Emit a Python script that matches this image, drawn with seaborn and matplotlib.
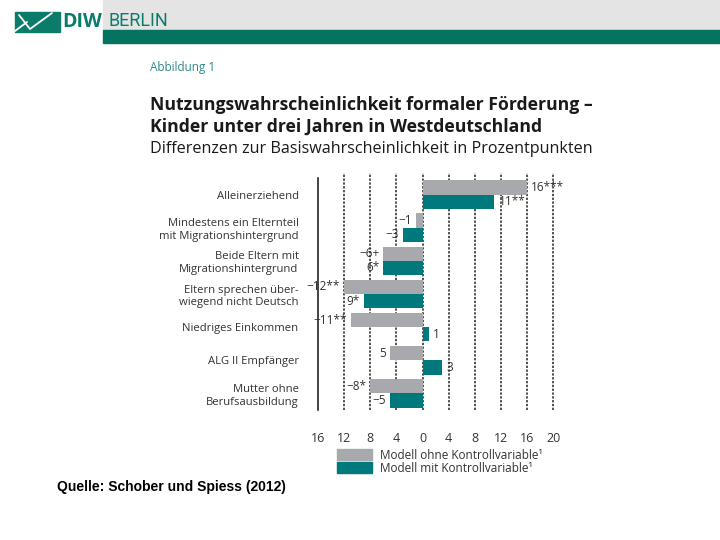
import pandas as pd
import matplotlib.pyplot as plt
import matplotlib.patches as mpatches
import matplotlib.lines as mlines
import seaborn as sns

# -----------------------------
# Data
# -----------------------------
categories = [
    "Alleinerziehend",
    "Mindestens ein Elternteil\nmit Migrationshintergrund",
    "Beide Eltern mit\nMigrationshintergrund",
    "Eltern sprechen über-\nwiegend nicht Deutsch",
    "Niedriges Einkommen",
    "ALG II Empfänger",
    "Mutter ohne\nBerufsausbildung",
]
models = ["Modell ohne Kontrollvariable¹", "Modell mit Kontrollvariable¹"]
ohne_values = [16, -1, -6, -12, -11, -5, -8]
mit_values = [11, -3, -6, -9, 1, 3, -5]
ohne_labels = ["16***", "−1", "−6+", "−12**", "−11**", "5", "−8*"]
mit_labels = ["11**", "−3", "6*", "9*", "1", "3", "−5"]
x_ticks = [-16, -12, -8, -4, 0, 4, 8, 12, 16, 20]

GRAY = "#a7a9ac"
TEAL = "#00797c"
TEXT = "#333333"

df = pd.DataFrame({
    "Merkmal": categories * 2,
    "Modell": [models[0]] * len(categories) + [models[1]] * len(categories),
    "Wert": ohne_values + mit_values,
})

# -----------------------------
# Figure
# -----------------------------
sns.set_style("white")
plt.rcParams["font.family"] = ["Open Sans", "DejaVu Sans"]

W, H = 720, 540
fig = plt.figure(figsize=(7.2, 5.4), dpi=100)


def fx(px):
    return px / W


def fy(py):
    return 1 - py / H


# header band
fig.patches.append(mpatches.Rectangle((fx(103), fy(30)), 1, 30 / H,
                                      transform=fig.transFigure, color="#e4e4e4", zorder=0))
fig.patches.append(mpatches.Rectangle((fx(103), fy(43)), 1, 13 / H,
                                      transform=fig.transFigure, color="#04735f", zorder=0))
# logo
fig.patches.append(mpatches.Polygon([(fx(15), fy(12)), (fx(60), fy(12)), (fx(60), fy(32)), (fx(15), fy(32))],
                                    closed=True, transform=fig.transFigure, color="#0b7c6a", zorder=1))
for xs, ys in [([19, 30, 52], [15, 29, 13]), ([15, 27], [31, 22])]:
    fig.lines.append(mlines.Line2D([fx(v) for v in xs], [fy(v) for v in ys],
                                   transform=fig.transFigure, color="white", lw=1.3, zorder=2))
fig.text(fx(62), fy(22), "DIW", color="#0b7c6a", fontsize=14, fontweight="bold",
         va="center", ha="left")
fig.text(fx(108), fy(21), "BERLIN", color="#0b7c6a", fontsize=13,
         va="center", ha="left", family=["Roboto", "DejaVu Sans"], fontstretch="condensed")

# titles
fig.text(fx(150), fy(68), "Abbildung 1", color="#2f8a8a", fontsize=8.5, va="center", ha="left")
fig.text(fx(150), fy(105), "Nutzungswahrscheinlichkeit formaler Förderung –",
         color="#1a1a1a", fontsize=12.7, fontweight="bold", va="center", ha="left")
fig.text(fx(150), fy(127), "Kinder unter drei Jahren in Westdeutschland",
         color="#1a1a1a", fontsize=12.7, fontweight="bold", va="center", ha="left")
fig.text(fx(150), fy(149), "Differenzen zur Basiswahrscheinlichkeit in Prozentpunkten",
         color="#1a1a1a", fontsize=11.6, va="center", ha="left")

# -----------------------------
# Bars
# -----------------------------
ax = fig.add_axes([fx(318), fy(410), fx(563) - fx(318), (410 - 178) / H])

sns.barplot(
    data=df,
    y="Merkmal",
    x="Wert",
    hue="Modell",
    hue_order=models,
    palette=[GRAY, TEAL],
    orient="h",
    width=0.86,
    saturation=1,
    linewidth=0,
    legend=False,
    ax=ax,
    zorder=3,
)

ax.set_xlim(-16, 21.5)
ax.set_ylim(len(categories) - 0.5, -0.5)

for t in x_ticks[1:]:
    ax.axvline(t, color="#222222", lw=1.1, ls=(0, (1.5, 1)), zorder=1,
               ymin=0, ymax=1.02, clip_on=False)

for cont, labs in zip(ax.containers, [ohne_labels, mit_labels]):
    ax.bar_label(cont, labels=labs, padding=3, fontsize=8.5, color=TEXT)

# axes styling
for s in ["top", "right", "bottom"]:
    ax.spines[s].set_visible(False)
ax.spines["left"].set_color("#111111")
ax.spines["left"].set_linewidth(1.1)

ax.set_xticks(x_ticks)
ax.set_xticklabels([str(abs(t)) for t in x_ticks])
ax.tick_params(axis="x", length=0, pad=16, labelsize=9, labelcolor=TEXT)

ax.set_yticks(range(len(categories)))
ax.set_yticklabels(categories, linespacing=1.22)
ax.tick_params(axis="y", which="major", length=0, pad=14, labelsize=8.1, labelcolor=TEXT)
ax.set_yticks([i + 0.5 for i in range(len(categories))], minor=True)
ax.tick_params(axis="y", which="minor", length=13, width=1.1, color="#111111", direction="out")

ax.set_xlabel("")
ax.set_ylabel("")
ax.grid(False)

# legend
handles = [mpatches.Patch(color=GRAY), mpatches.Patch(color=TEAL)]
fig.legend(handles, models, loc="upper left",
           bbox_to_anchor=(fx(337), fy(449)), bbox_transform=fig.transFigure,
           frameon=False, fontsize=8.5, labelcolor=TEXT,
           handlelength=3.0, handleheight=1.05, labelspacing=0,
           borderpad=0, borderaxespad=0, handletextpad=0.6)

fig.text(fx(57), fy(487), "Quelle: Schober und Spiess (2012)",
         fontsize=10, fontweight="bold", color="black", va="center", ha="left",
         family=["Liberation Sans", "DejaVu Sans"])

plt.savefig("out.png", dpi=100)
plt.close()
